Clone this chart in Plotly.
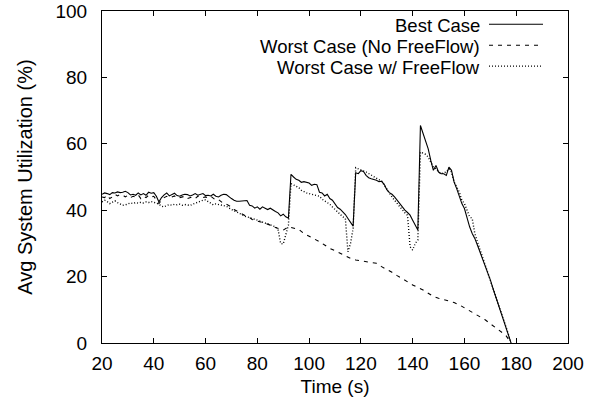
import plotly.graph_objects as go

# ---------------- data ----------------
best_x = list(range(20, 179))
best_y = [44.8, 45.2, 45.0, 44.7, 45.3, 45.2, 45.5, 45.3, 45.4, 45.7,
          45.3, 44.6, 44.8, 44.5, 45.2, 44.6, 45.0, 44.5, 45.4, 45.1,
          45.3, 44.2, 42.5, 43.8, 44.6, 45.2, 44.3, 44.8, 45.1, 44.4,
          44.2, 44.6, 44.8, 44.7, 44.3, 44.6, 45.0, 44.5, 44.8, 45.0,
          44.4, 44.5, 44.3, 44.8, 44.2, 44.0, 44.5, 44.8, 44.7, 44.0,
          43.5, 43.0, 42.7, 42.7, 42.8, 42.7, 42.9, 41.5, 41.3, 40.6,
          41.0, 40.3, 41.0, 40.6, 40.2, 40.6, 40.0, 39.6, 39.2, 38.3,
          38.8, 38.0, 37.6, 50.8, 50.0, 49.3, 49.0, 48.4, 48.6, 48.5,
          48.2, 47.5, 47.8, 47.7, 45.4, 45.2, 44.3, 44.8, 43.5, 43.0,
          41.8, 40.8, 40.3, 39.5, 38.7, 37.5, 36.5, 35.2, 51.3, 51.0,
          51.9, 51.7, 50.5, 49.8, 49.5, 49.3, 49.0, 48.6, 48.7, 47.8,
          46.2, 45.3, 44.8, 44.0, 43.0, 41.8, 41.0, 40.0, 39.3, 38.5,
          37.0, 35.5, 34.0, 65.5, 63.0, 61.0, 58.5, 55.0, 52.0, 53.5,
          51.5, 51.0, 51.0, 50.5, 53.0, 52.0, 48.5, 46.5, 44.0, 42.0,
          40.5, 37.5, 35.0, 33.0, 31.5, 29.5, 27.5, 25.5, 23.2, 21.0,
          19.0, 16.5, 14.2, 12.0, 9.8, 7.5, 5.2, 2.5, 0.0]

nofree_x = list(range(20, 91)) + list(range(92, 179, 2))
nofree_y = [44.0, 43.8, 44.5, 43.5, 44.0, 44.8, 44.3, 44.7, 44.6, 44.0,
            44.5, 43.8, 44.2, 44.0, 44.6, 43.5, 44.2, 43.8, 44.5, 44.0,
            44.2, 43.0, 42.0, 43.0, 43.8, 44.2, 43.7, 44.0, 44.3, 43.6,
            43.8, 44.0, 44.2, 43.5, 43.8, 44.0, 43.5, 44.2, 44.4, 43.8,
            44.0, 43.7, 44.2, 43.6, 43.0, 43.2, 42.6, 42.0, 41.8, 41.5,
            41.0, 40.2, 39.8, 39.5, 39.0, 38.5, 38.0, 37.8, 37.2, 37.0,
            36.8, 36.5, 36.2, 36.0, 35.8, 35.5, 35.0, 34.8, 34.5, 34.2,
            34.0,
            35.0, 34.6, 34.2, 33.0, 32.2, 31.5, 30.5, 29.5, 28.5, 27.8,
            27.0, 26.2, 25.5, 25.0, 24.8, 24.5, 24.2, 24.0, 23.0, 22.2,
            21.3, 20.3, 19.3, 18.4, 17.5, 16.7, 16.0, 15.0, 14.0, 13.5,
            13.1, 12.7, 12.2, 11.5, 10.6, 9.8, 9.0, 8.0, 7.0, 5.8,
            4.6, 3.5, 2.3, 0.0]

free_x = list(range(20, 179))
free_y = [42.5, 43.0, 42.6, 42.0, 42.4, 42.8, 42.3, 41.8, 41.5, 41.6,
          41.9, 42.2, 42.0, 42.3, 42.1, 42.4, 42.2, 42.5, 42.3, 42.6,
          42.4, 42.2, 41.8, 41.2, 41.0, 41.4, 41.7, 41.5, 41.8, 41.6,
          41.8, 41.5, 41.7, 41.6, 41.4, 41.8, 42.1, 42.4, 42.8, 43.0,
          43.1, 42.6, 42.0, 41.6, 41.9, 41.7, 41.5, 41.3, 41.2, 40.7,
          40.2, 39.8, 39.5, 39.0, 38.8, 38.2, 38.0, 37.8, 37.5, 37.2,
          37.0, 36.7, 36.4, 36.2, 36.0, 35.6, 35.4, 35.0, 34.2, 30.0,
          29.8, 33.0, 35.5, 48.0, 47.6, 47.2, 46.8, 46.0, 45.5, 45.2,
          45.0, 44.8, 44.5, 44.3, 44.2, 43.3, 42.8, 42.5, 41.8, 41.0,
          40.2, 39.5, 38.7, 38.0, 37.5, 27.5, 30.0, 34.5, 52.8, 52.4,
          52.0, 51.8, 51.5, 51.0, 50.5, 50.0, 49.5, 49.2, 48.8, 47.5,
          46.2, 45.0, 44.0, 43.0, 42.0, 41.0, 40.0, 39.2, 38.5, 29.0,
          28.0, 30.0, 31.0, 57.5, 57.2, 56.8, 56.0, 54.5, 53.0, 52.5,
          51.5, 51.0, 51.2, 51.5, 52.5, 51.5, 48.5, 47.0, 45.5, 43.0,
          42.0, 40.0, 38.0, 37.5, 33.0, 30.5, 28.2, 26.0, 23.8, 21.5,
          19.0, 16.8, 14.5, 12.0, 9.8, 7.3, 5.0, 2.6, 0.0]

series_names = ["Best Case", "Worst Case (No FreeFlow)", "Worst Case w/ FreeFlow"]
x_ticks = [20, 40, 60, 80, 100, 120, 140, 160, 180, 200]
y_ticks = [0, 20, 40, 60, 80, 100]

# ---------------- figure ----------------
FONT = "Liberation Sans, Arial, Helvetica, sans-serif"
FS = 19
dashes = ["solid", "4px,5px", "1px,2px"]
widths = [1.1, 1.1, 1.4]

fig = go.Figure()
for xs, ys, name, d, w in zip([best_x, nofree_x, free_x],
                              [best_y, nofree_y, free_y],
                              series_names, dashes, widths):
    fig.add_trace(go.Scatter(x=xs, y=ys, mode="lines", name=name,
                             line=dict(color="black", width=w, dash=d),
                             showlegend=False))

# gnuplot-style key: text right-aligned, sample line to its right
row_y = [0.956, 0.893, 0.830]
for name, d, w, yy in zip(series_names, dashes, widths, row_y):
    fig.add_annotation(x=0.813, y=yy, xref="paper", yref="paper",
                       text=name, showarrow=False, xanchor="right",
                       yanchor="middle", borderpad=0,
                       font=dict(size=18.5, color="black", family=FONT))
    fig.add_shape(type="line", xref="paper", yref="paper",
                  x0=0.8305, x1=0.9464, y0=yy + 0.004, y1=yy + 0.004,
                  line=dict(color="black", width=w, dash=d))

axis_common = dict(showline=True, linecolor="black", linewidth=1.2, mirror="ticks",
                   ticks="inside", ticklen=5, tickwidth=1, tickcolor="black",
                   showgrid=False, zeroline=False, automargin=False,
                   tickfont=dict(size=FS, color="black", family=FONT))

fig.update_xaxes(range=[20, 200], tickvals=x_ticks, ticktext=[str(v) for v in x_ticks],
                 title=dict(text="Time (s)", font=dict(size=FS, color="black", family=FONT),
                            standoff=6),
                 ticklabelstandoff=3, **axis_common)
fig.update_yaxes(range=[0, 100], tickvals=y_ticks, ticktext=[str(v) for v in y_ticks],
                 title=dict(text="Avg System Utilization (%)",
                            font=dict(size=20, color="black", family=FONT), standoff=17),
                 ticklabelstandoff=10, **axis_common)

fig.update_layout(width=589, height=406,
                  margin=dict(l=102, r=21, t=11, b=63, pad=0, autoexpand=False),
                  plot_bgcolor="white", paper_bgcolor="white",
                  font=dict(family=FONT, color="black"))

fig.write_html("out.html")
